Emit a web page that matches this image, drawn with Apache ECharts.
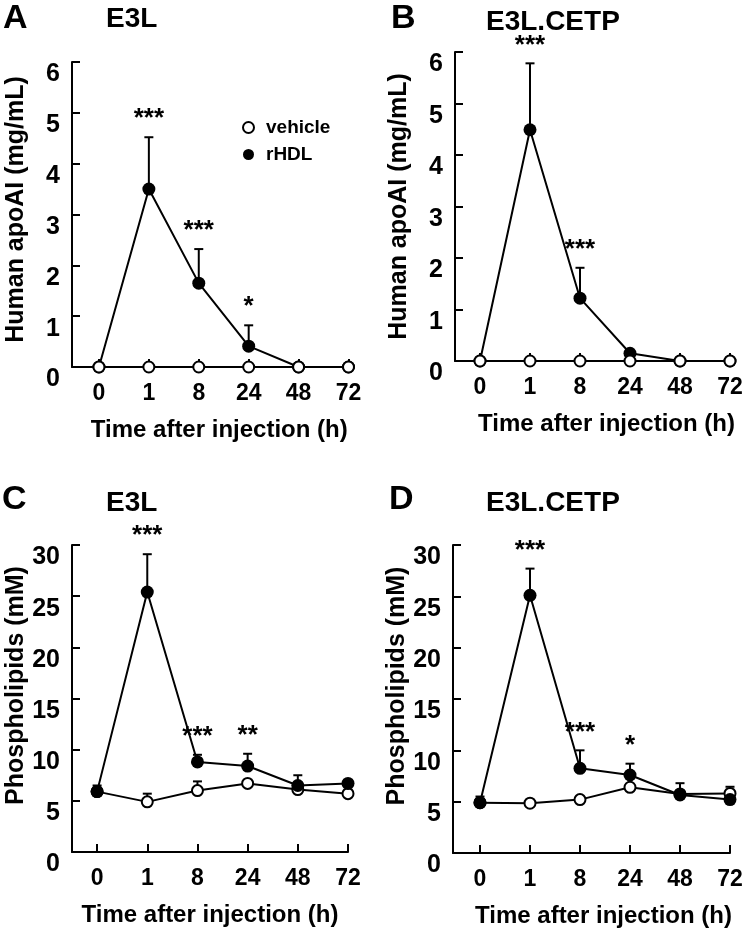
<!DOCTYPE html>
<html>
<head>
<meta charset="utf-8">
<script src="https://cdn.jsdelivr.net/npm/echarts@6/dist/echarts.min.js"></script>
<style>html,body{margin:0;padding:0;background:#fff;}#c{width:747px;height:938px;}</style>
</head>
<body>
<div id="c"></div>
<script>
// ---- data ----
const timeLabels = ['0', '1', '8', '24', '48', '72'];

// Panel A: E3L, human apoAI (mg/mL)
const apoE3L_vehicle = [0, 0, 0, 0, 0, 0];
const apoE3L_rHDL = [0, 3.5, 1.65, 0.41, 0, 0];
const apoE3L_rHDL_upper = [null, 4.52, 2.32, 0.82, null, null];
const apoE3L_vehicle_upper = [null, null, null, null, null, null];
const apoE3L_sig = ['', '***', '***', '*', '', ''];

// Panel B: E3L.CETP, human apoAI (mg/mL)
const apoCETP_vehicle = [0, 0, 0, 0, 0, 0];
const apoCETP_rHDL = [0, 4.49, 1.22, 0.15, 0, 0];
const apoCETP_rHDL_upper = [null, 5.78, 1.81, null, null, null];
const apoCETP_vehicle_upper = [null, null, null, null, null, null];
const apoCETP_sig = ['', '***', '***', '', '', ''];

// Panel C: E3L, phospholipids (mM)
const plE3L_vehicle = [5.9, 4.9, 6.0, 6.7, 6.1, 5.7];
const plE3L_vehicle_upper = [null, 5.7, 6.9, null, null, null];
const plE3L_rHDL = [5.9, 25.4, 8.8, 8.4, 6.5, 6.7];
const plE3L_rHDL_upper = [6.5, 29.1, 9.5, 9.6, 7.5, 7.0];
const plE3L_sig = ['', '***', '***', '**', '', ''];

// Panel D: E3L.CETP, phospholipids (mM)
const plCETP_vehicle = [4.9, 4.85, 5.2, 6.4, 5.75, 5.8];
const plCETP_vehicle_upper = [null, null, null, null, null, 6.45];
const plCETP_rHDL = [4.9, 25.1, 8.25, 7.6, 5.65, 5.2];
const plCETP_rHDL_upper = [5.5, 27.7, 10.0, 8.7, 6.8, null];
const plCETP_sig = ['', '***', '***', '*', '', ''];

// ---- chart ----
const FF = "'Liberation Sans', Arial, Helvetica, sans-serif";
const chart = echarts.init(document.getElementById('c'), null, {renderer: 'canvas'});

const panels = [
  {grid: {left: 72, top: 62, width: 276.5, height: 305}, xMin: -0.54, yMax: 6, yInt: 1,
   yName: 'Human apoAI (mg/mL)', yPad: [0, 0, 0, 10], xPad: [0, 0, 0, 18], vehicleTop: true,
   veh: apoE3L_vehicle, vehU: apoE3L_vehicle_upper, rhdl: apoE3L_rHDL, rhdlU: apoE3L_rHDL_upper, sig: apoE3L_sig},
  {grid: {left: 455, top: 52, width: 275, height: 309}, xMin: -0.5, yMax: 6, yInt: 1,
   yName: 'Human apoAI (mg/mL)', yPad: [0, 0, 0, 0], xPad: [0, 0, 0, 28], vehicleTop: true,
   veh: apoCETP_vehicle, vehU: apoCETP_vehicle_upper, rhdl: apoCETP_rHDL, rhdlU: apoCETP_rHDL_upper, sig: apoCETP_sig},
  {grid: {left: 72, top: 545, width: 276, height: 307}, xMin: -0.5, yMax: 30, yInt: 5,
   yName: 'Phospholipids (mM)', yPad: [0, 0, 0, 26], xPad: [0, 0, 0, 0], vehicleTop: false,
   veh: plE3L_vehicle, vehU: plE3L_vehicle_upper, rhdl: plE3L_rHDL, rhdlU: plE3L_rHDL_upper, sig: plE3L_sig},
  {grid: {left: 453, top: 545, width: 277, height: 308}, xMin: -0.54, yMax: 30, yInt: 5,
   yName: 'Phospholipids (mM)', yPad: [0, 0, 0, 26], xPad: [0, 0, 0, 24], vehicleTop: false,
   veh: plCETP_vehicle, vehU: plCETP_vehicle_upper, rhdl: plCETP_rHDL, rhdlU: plCETP_rHDL_upper, sig: plCETP_sig}
];

const idxs = timeLabels.map((_, i) => i);
const grids = [], xAxes = [], yAxes = [], series = [];

function errData(vals, uppers) {
  const out = [];
  vals.forEach((v, i) => { if (uppers[i] != null) out.push([i, v, uppers[i]]); });
  return out;
}

function errRender(params, api) {
  const x = api.value(0), y = api.value(1), t = api.value(2);
  const p0 = api.coord([x, y]);
  const p1 = api.coord([x, t]);
  return {
    type: 'group',
    children: [
      {type: 'line', shape: {x1: p0[0], y1: p0[1], x2: p1[0], y2: p1[1]}, style: {stroke: '#000', lineWidth: 2}},
      {type: 'line', shape: {x1: p1[0] - 4.5, y1: p1[1], x2: p1[0] + 4.5, y2: p1[1]}, style: {stroke: '#000', lineWidth: 2}}
    ]
  };
}

function starRender(params, api) {
  const x = api.value(0), t = api.value(1);
  const p = api.coord([x, t]);
  const txt = api.value(2);
  return {
    type: 'text',
    style: {x: p[0], y: p[1] - 18, text: txt, fill: '#000', font: 'bold 26px ' + FF, align: 'center', verticalAlign: 'middle'}
  };
}

panels.forEach((p, k) => {
  grids.push(Object.assign({containLabel: false}, p.grid));
  xAxes.push({
    type: 'value', gridIndex: k, min: p.xMin, max: 5,
    splitLine: {show: false},
    axisLine: {show: true, onZero: false, lineStyle: {color: '#000', width: 2}},
    axisTick: {show: true, inside: true, length: 8, lineStyle: {color: '#000', width: 2}, customValues: idxs},
    axisLabel: {customValues: idxs, formatter: v => timeLabels[Math.round(v)], color: '#000',
      fontFamily: FF, fontWeight: 'bold', fontSize: 23, margin: 15},
    name: 'Time after injection (h)', nameLocation: 'middle', nameGap: 51,
    nameTextStyle: {color: '#000', fontFamily: FF, fontWeight: 'bold', fontSize: 24, padding: p.xPad}
  });
  yAxes.push({
    type: 'value', gridIndex: k, min: 0, max: p.yMax, interval: p.yInt,
    splitLine: {show: false},
    axisLine: {show: true, onZero: false, lineStyle: {color: '#000', width: 2}},
    axisTick: {show: true, inside: true, length: 8, lineStyle: {color: '#000', width: 2}},
    axisLabel: {color: '#000', fontFamily: FF, fontWeight: 'bold', fontSize: 25, margin: 12,
      verticalAlign: 'top'},
    name: p.yName, nameLocation: 'middle', nameGap: 43, nameRotate: 90,
    nameTextStyle: {color: '#000', fontFamily: FF, fontWeight: 'bold', fontSize: 25, padding: p.yPad}
  });

  const vehZ = p.vehicleTop ? 4 : 3;
  const rZ = p.vehicleTop ? 3 : 4;

  series.push({
    type: 'custom', name: 'rHDL-err', xAxisIndex: k, yAxisIndex: k, z: 1, clip: false, silent: true,
    renderItem: errRender, encode: {x: 0, y: [1, 2]}, data: errData(p.rhdl, p.rhdlU)
  });
  series.push({
    type: 'custom', name: 'vehicle-err', xAxisIndex: k, yAxisIndex: k, z: 1, clip: false, silent: true,
    renderItem: errRender, encode: {x: 0, y: [1, 2]}, data: errData(p.veh, p.vehU)
  });
  series.push({
    type: 'line', name: 'rHDL', xAxisIndex: k, yAxisIndex: k, z: rZ, clip: false,
    data: p.rhdl.map((v, i) => [i, v]),
    symbol: 'circle', symbolSize: 13, showSymbol: true, showAllSymbol: true,
    itemStyle: {color: '#000', borderColor: '#000', borderWidth: 0},
    lineStyle: {color: '#000', width: 2},
    emphasis: {disabled: true}, animation: false
  });
  series.push({
    type: 'line', name: 'vehicle', xAxisIndex: k, yAxisIndex: k, z: vehZ, clip: false,
    data: p.veh.map((v, i) => [i, v]),
    symbol: 'circle', symbolSize: 11, showSymbol: true, showAllSymbol: true,
    itemStyle: {color: '#fff', borderColor: '#000', borderWidth: 2},
    lineStyle: {color: '#000', width: 2},
    emphasis: {disabled: true}, animation: false
  });
  const starData = [];
  p.sig.forEach((s, i) => {
    if (s) starData.push([i, p.rhdlU[i] != null ? p.rhdlU[i] : p.rhdl[i], s]);
  });
  series.push({
    type: 'custom', name: 'sig', xAxisIndex: k, yAxisIndex: k, z: 5, clip: false, silent: true,
    renderItem: starRender, encode: {x: 0, y: 1},
    dimensions: ['x', 'y', {name: 's', type: 'ordinal'}],
    data: starData
  });
});

const labelStyle = (t, x, y, size) => ({
  type: 'text', x: x, y: y, silent: true,
  style: {text: t, fill: '#000', font: 'bold ' + size + 'px ' + FF, align: 'left', verticalAlign: 'middle'}
});

chart.setOption({
  animation: false,
  backgroundColor: '#fff',
  grid: grids,
  xAxis: xAxes,
  yAxis: yAxes,
  legend: {
    show: true, orient: 'vertical', left: 237, top: 113, itemGap: 8,
    itemWidth: 11, itemHeight: 11, selectedMode: false,
    textStyle: {color: '#000', fontFamily: FF, fontWeight: 'bold', fontSize: 19, padding: [0, 0, 0, 7]},
    data: [
      {name: 'vehicle', icon: 'circle', itemStyle: {color: '#fff', borderColor: '#000', borderWidth: 2}},
      {name: 'rHDL', icon: 'circle', itemStyle: {color: '#000', borderWidth: 0}}
    ]
  },
  graphic: [
    labelStyle('A', 3, 19, 34),
    labelStyle('E3L', 106, 19, 28),
    labelStyle('B', 391, 19, 34),
    labelStyle('E3L.CETP', 486, 22, 28),
    labelStyle('C', 2, 500, 34),
    labelStyle('E3L', 106, 503, 28),
    labelStyle('D', 389, 500, 34),
    labelStyle('E3L.CETP', 486, 503, 28)
  ],
  series: series
});
</script>
</body>
</html>
